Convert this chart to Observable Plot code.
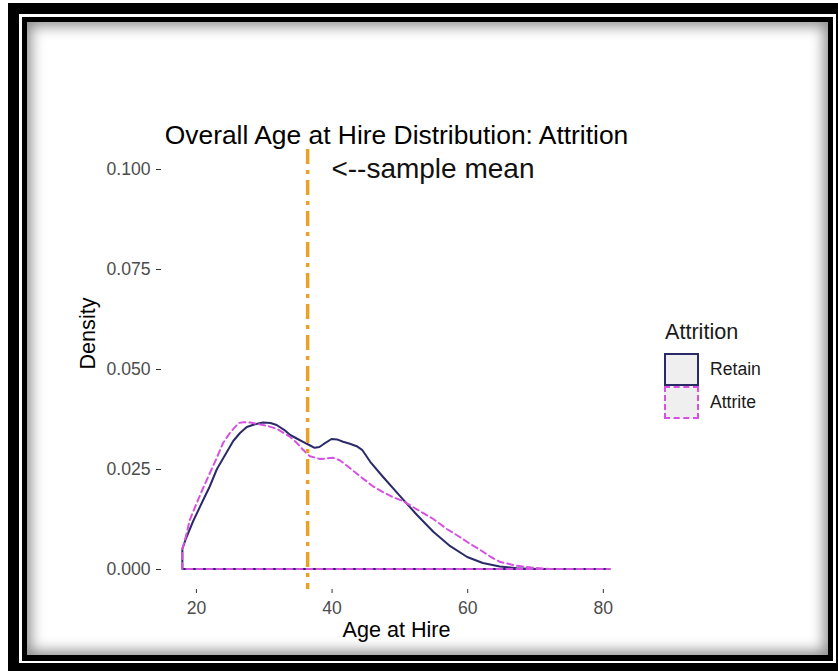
<!DOCTYPE html>
<html><head><meta charset="utf-8">
<script src="https://cdn.jsdelivr.net/npm/d3@7"></script>
<script src="https://cdn.jsdelivr.net/npm/@observablehq/plot@0.6"></script>
<style>
html,body{margin:0;padding:0;background:#fff;width:838px;height:671px;overflow:hidden;font-family:"Liberation Sans",Arial,sans-serif;}
.abs{position:absolute;}
#outer{left:8px;top:3px;width:830px;height:668px;background:#000;}
#gap{left:19px;top:14px;width:817px;height:649px;background:#fff;}
#inner{left:22px;top:17px;width:811px;height:644px;background:#000;}
#content{left:27px;top:22px;width:801px;height:633px;background:#fff;box-shadow:inset 0 0 14px 4px rgba(0,0,0,0.45);}
#chart{left:0;top:0;}
.lg{position:absolute;line-height:1;transform:translateY(-50%);white-space:nowrap;color:#1a1a1a;}
.key{position:absolute;box-sizing:border-box;width:35px;height:33px;background:#EFEFEF;}
</style>
</head><body>
<div id="outer" class="abs"></div>
<div id="gap" class="abs"></div>
<div id="inner" class="abs"></div>
<div id="content" class="abs"></div>
<div id="chart" class="abs"></div>
<div id="legend"></div>
<script>
// ---- data ----
const retainAge = [18.0, 18.5, 19.6, 21.0, 22.0, 23.1, 24.3, 25.5, 26.5, 27.5, 28.7, 29.9, 31.0, 31.9, 33.0, 33.9, 35.0, 35.8, 36.7, 37.5, 38.2, 38.8, 40.0, 40.8, 41.7, 42.7, 43.7, 44.5, 45.7, 47.6, 50.1, 52.6, 55.0, 57.5, 60.0, 62.3, 64.8, 67.3, 70.0, 81.0];
const retainDensity = [0.0050, 0.0075, 0.0120, 0.0170, 0.0205, 0.0250, 0.0285, 0.0320, 0.0340, 0.0355, 0.0362, 0.0366, 0.0365, 0.0360, 0.0348, 0.0335, 0.0325, 0.0318, 0.0310, 0.0303, 0.0305, 0.0312, 0.0325, 0.0324, 0.0318, 0.0313, 0.0307, 0.0298, 0.0268, 0.0230, 0.0182, 0.0135, 0.0093, 0.0057, 0.0030, 0.0015, 0.0006, 0.0002, 0.0000, 0.0000];
const attriteAge = [18.0, 18.5, 19.1, 20.0, 21.0, 21.8, 23.0, 24.0, 25.0, 26.3, 27.0, 28.0, 29.2, 30.5, 32.0, 33.9, 35.0, 35.8, 36.8, 38.3, 40.2, 41.2, 42.5, 44.2, 46.0, 47.6, 49.0, 50.5, 52.0, 55.0, 57.0, 58.9, 60.5, 61.9, 63.5, 64.8, 67.3, 69.7, 72.2, 81.0];
const attriteDensity = [0.0050, 0.0080, 0.0123, 0.0160, 0.0200, 0.0230, 0.0275, 0.0315, 0.0340, 0.0365, 0.0367, 0.0366, 0.0362, 0.0358, 0.0350, 0.0330, 0.0313, 0.0298, 0.0282, 0.0275, 0.0278, 0.0272, 0.0255, 0.0232, 0.0208, 0.0192, 0.0180, 0.0170, 0.0155, 0.0125, 0.0100, 0.0080, 0.0062, 0.0048, 0.0030, 0.0018, 0.0008, 0.0003, 0.0000, 0.0000];
const sampleMean = [36.4];
const xTicks = [20, 40, 60, 80];
const yTicks = [0, 0.025, 0.05, 0.075, 0.1];
const annotationX = [39.9];
const annotationY = [0.1];
const annotationText = ["<--sample mean"];
const titleText = ["Overall Age at Hire Distribution: Attrition"];
const xTitle = ["Age at Hire"];
const yTitle = ["Density"];
const legendTitle = "Attrition";
const groups = ["Retain", "Attrite"];

const NAVY = "#2A2A68", MAGENTA = "#D651E2", ORANGE = "#E9A227";

const retain = retainAge.map((a, i) => ({age: a, density: retainDensity[i]}));
const attrite = attriteAge.map((a, i) => ({age: a, density: attriteDensity[i]}));
const annot = annotationX.map((x, i) => ({x, y: annotationY[i], t: annotationText[i]}));

const chart = Plot.plot({
  width: 838, height: 671,
  marginLeft: 161, marginRight: 207, marginTop: 149, marginBottom: 82,
  style: {background: "transparent", fontFamily: "'Liberation Sans', Arial, sans-serif"},
  x: {domain: [14.85, 84.15]},
  y: {domain: [-0.005, 0.105]},
  marks: [
    Plot.areaY(retain, {x: "age", y: "density", fill: "none", stroke: NAVY, strokeWidth: 2}),
    Plot.areaY(attrite, {x: "age", y: "density", fill: "none", stroke: MAGENTA, strokeWidth: 2, strokeDasharray: "6,4"}),
    Plot.ruleX(sampleMean, {x: d => d, stroke: ORANGE, strokeWidth: 3.5, strokeDasharray: "15,6,4,6"}),
    Plot.text(annot, {x: "x", y: "y", text: "t", textAnchor: "start", fontSize: 28, fill: "#111"}),
    Plot.axisY({ticks: yTicks, tickFormat: d3.format(".3f"), tickSize: 5, tickPadding: 6, fontSize: 17.6, stroke: "#333", fill: "#4D4D4D", label: null}),
    Plot.axisX({ticks: xTicks, tickSize: 4, tickPadding: 8, fontSize: 17.6, stroke: "#333", fill: "#4D4D4D", label: null}),
    Plot.text(yTitle, {text: d => d, frameAnchor: "left", dx: -73, rotate: -90, fontSize: 21.6, fill: "#000"}),
    Plot.text(xTitle, {text: d => d, frameAnchor: "bottom", dy: 47, fontSize: 21.6, fill: "#000"}),
    Plot.text(titleText, {text: d => d, frameAnchor: "top", dy: -24, fontSize: 26.4, fill: "#000"})
  ]
});
document.getElementById("chart").appendChild(chart);

// legend
const lg = document.getElementById("legend");
function add(html) { lg.insertAdjacentHTML("beforeend", html); }
add(`<div class="lg" style="left:665px;top:332px;font-size:21.6px">${legendTitle}</div>`);
add(`<div class="key" style="left:664px;top:353px;border:2px solid ${NAVY}"></div>`);
add(`<div class="key" style="left:664px;top:386px;border:2px dashed ${MAGENTA}"></div>`);
add(`<div class="lg" style="left:710px;top:370px;font-size:17.6px">${groups[0]}</div>`);
add(`<div class="lg" style="left:710px;top:403px;font-size:17.6px">${groups[1]}</div>`);
</script>
</body></html>
